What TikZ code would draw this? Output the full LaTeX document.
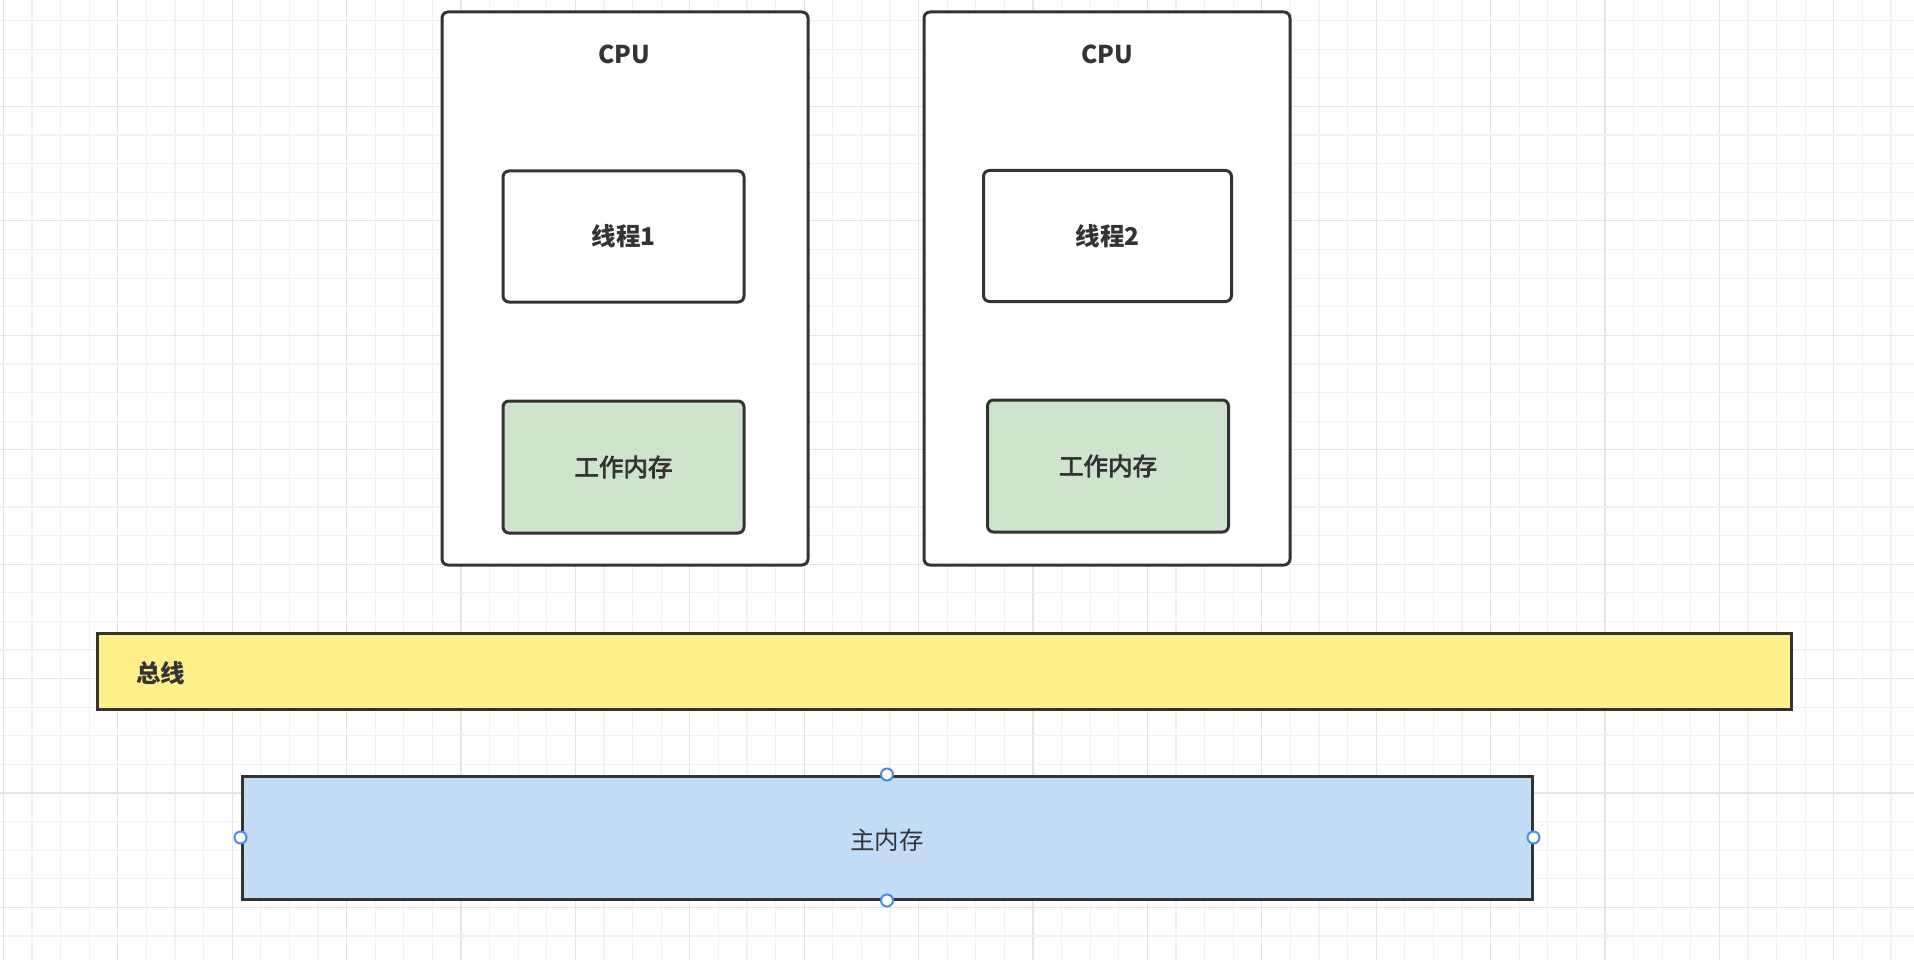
\documentclass[tikz,border=0pt]{standalone}
\usepackage{fontspec}
\setmainfont{Noto Sans CJK SC}
\newfontfamily\medfont[FakeBold=3]{Noto Sans CJK SC}
\definecolor{edge}{HTML}{333333}
\definecolor{txt}{HTML}{333333}
\definecolor{gminor}{HTML}{F2F2F2}
\definecolor{gmajor}{HTML}{E4E4E4}
\definecolor{wmem}{HTML}{CFE4CC}
\definecolor{bus}{HTML}{FFF08A}
\definecolor{mmem}{HTML}{C3DDF6}
\definecolor{handle}{HTML}{4A8AE8}
\begin{document}
\begin{tikzpicture}[x=1pt,y=-1pt,
  cpubox/.style={draw=edge,line width=3pt,rounded corners=6pt,fill=white,inner sep=0pt,minimum width=366pt,minimum height=553pt},
  thrbox/.style={draw=edge,line width=3pt,rounded corners=6pt,fill=white,inner sep=0pt,minimum width=241pt,minimum height=131pt},
  wmbox/.style={draw=edge,line width=3pt,rounded corners=6pt,fill=wmem,inner sep=0pt,minimum width=241pt,minimum height=132pt},
  busbox/.style={draw=edge,line width=3pt,fill=bus,inner sep=0pt,minimum width=1694pt,minimum height=76pt},
  mmbox/.style={draw=edge,line width=3pt,fill=mmem,inner sep=0pt,minimum width=1290pt,minimum height=123pt},
  bt/.style={text=txt,font=\fontsize{24.5}{29}\selectfont\bfseries,inner sep=0pt},
  mt/.style={text=txt,font=\fontsize{24.5}{29}\selectfont\medfont,inner sep=0pt},
  nt/.style={text=txt,font=\fontsize{24.5}{29}\selectfont,inner sep=0pt},
  hdl/.style={circle,draw=handle,line width=2pt,fill=white,inner sep=0pt,minimum size=12pt}
]
\useasboundingbox (0,0) rectangle (1914,960);
\fill[white] (0,0) rectangle (1914,960);
% grid
\foreach \i in {0,...,67}{
  \pgfmathsetmacro{\xx}{3.3+28.6*\i}
  \pgfmathtruncatemacro{\m}{mod(\i,4)}
  \ifnum\m=0 \draw[gmajor,line width=1.2pt] (\xx,0) -- (\xx,960);
  \else \draw[gminor,line width=1.2pt] (\xx,0) -- (\xx,960); \fi
}
\foreach \j in {1,...,34}{
  \pgfmathsetmacro{\yy}{-7.9+28.6*\j}
  \pgfmathtruncatemacro{\m}{mod(\j,4)}
  \ifnum\m=0 \draw[gmajor,line width=1.2pt] (0,\yy) -- (1914,\yy);
  \else \draw[gminor,line width=1.2pt] (0,\yy) -- (1914,\yy); \fi
}
% CPUs
\node[cpubox] (cpu1) at (625,288.5) {};
\node[cpubox] (cpu2) at (1107,288.5) {};
\node[bt] (cpu1t) at (624,54) {CPU};
\node[bt] (cpu2t) at (1107,54) {CPU};
\node[thrbox] (t1) at (623.5,236.5) {};
\node[bt] (t1t) at (t1.center) {线程1};
\node[thrbox,minimum width=248pt] (t2) at (1107.5,236) {};
\node[bt] (t2t) at (t2.center) {线程2};
\node[wmbox] (w1) at (623.5,467) {};
\node[mt] (w1t) at (w1.center) {工作内存};
\node[wmbox] (w2) at (1108,466) {};
\node[mt] (w2t) at (w2.center) {工作内存};
% bus
\node[busbox] (bus) at (944,671) {};
\node[bt,anchor=west] (bust) at (136,673) {总线};
% main memory
\node[mmbox] (mm) at (887,837.5) {};
\node[nt] (mmt) at (887,840) {主内存};
\node[hdl] (hn) at (mm.north) {};
\node[hdl] (hs) at (mm.south) {};
\node[hdl] (hw) at (mm.west) {};
\node[hdl] (he) at (mm.east) {};
\end{tikzpicture}
\end{document}
